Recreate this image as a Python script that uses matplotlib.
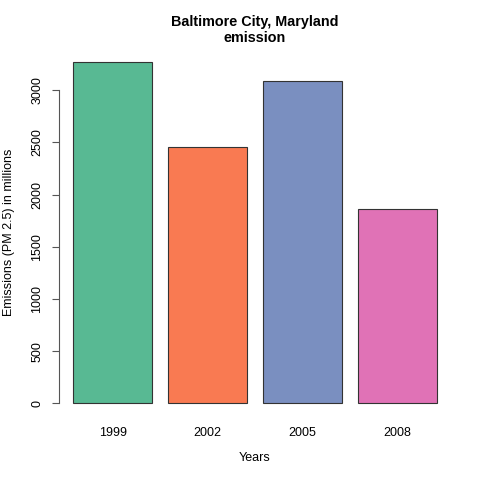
import matplotlib.pyplot as plt
import numpy as np

plt.rcParams["font.family"] = ["Liberation Sans", "DejaVu Sans"]

years = ["1999", "2002", "2005", "2008"]
emissions = [3274.18, 2453.92, 3091.35, 1862.28]
colors = ["#58B993", "#F97A52", "#7A8FC0", "#E072B6"]

fig = plt.figure(figsize=(4.8, 4.8), dpi=100)
ax = fig.add_axes([0.122, 0.131, 0.818, 0.769])

# R barplot layout: width 1, space 0.2
lefts = 0.2 + 1.2 * np.arange(len(years))
centers = lefts + 0.5
ax.bar(centers, emissions, width=1.0, color=colors, edgecolor="#333333", linewidth=0.8)

top = max(emissions)
pad = 0.04 * top
ax.set_xlim(0.2 - 0.184, 4.8 + 0.184)
ax.set_ylim(-pad, top + pad)

for s in ["top", "right", "bottom"]:
    ax.spines[s].set_visible(False)
ax.spines["left"].set_bounds(0, 3000)
ax.spines["left"].set_color("#555555")

yt = np.arange(0, 3001, 500)
ax.set_yticks(yt)
ax.set_yticklabels([str(v) for v in yt], rotation=90, va="center", fontsize=9)
ax.tick_params(axis="y", length=5, color="#555555", pad=6)

ax.set_xticks(centers)
ax.set_xticklabels(years, fontsize=9)
ax.tick_params(axis="x", length=0, pad=7)

ax.set_xlabel("Years", fontsize=9, va="center")
ax.xaxis.set_label_coords(0.5, -0.111)
ax.set_ylabel("Emissions (PM 2.5) in millions", fontsize=9, va="center")
ax.yaxis.set_label_coords(-0.125, 0.5)
ax.set_title("Baltimore City, Maryland\nemission", fontsize=10.4, fontweight="bold", pad=4)

fig.savefig("out.png", dpi=100)
